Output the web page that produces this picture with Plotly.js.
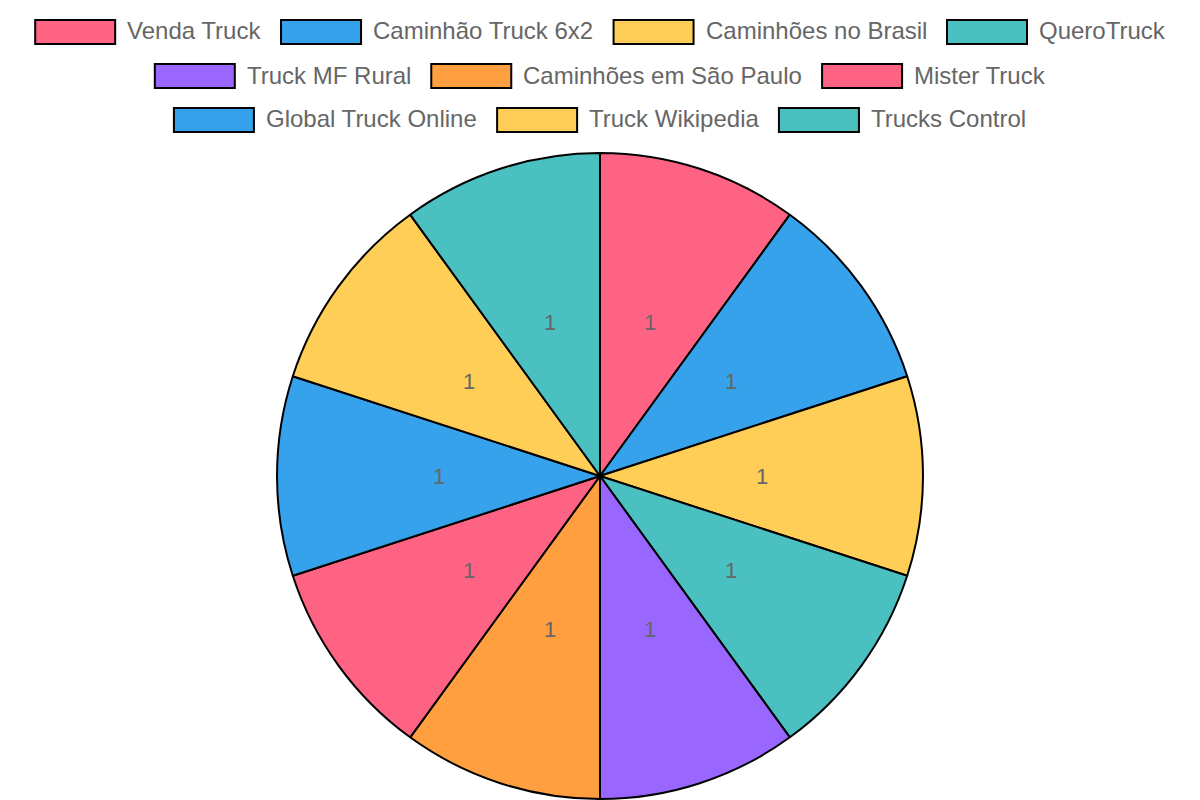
<!DOCTYPE html>
<html>
<head>
<meta charset="utf-8">
<script src="https://cdn.plot.ly/plotly-3.0.1.min.js"></script>
<style>
  html, body { margin: 0; padding: 0; background: #fff; }
  #myDiv { width: 1200px; height: 800px; }
</style>
</head>
<body>
<div id="myDiv"></div>
<script>
var labels = ["Venda Truck", "Caminhão Truck 6x2", "Caminhões no Brasil", "QueroTruck",
  "Truck MF Rural", "Caminhões em São Paulo", "Mister Truck",
  "Global Truck Online", "Truck Wikipedia", "Trucks Control"];
var values = [1, 1, 1, 1, 1, 1, 1, 1, 1, 1];
var colors = ["#FF6384", "#36A2EB", "#FFCE56", "#4BC0C0", "#9966FF", "#FF9F40",
  "#FF6384", "#36A2EB", "#FFCE56", "#4BC0C0"];

var W = 1200, H = 800;
var fontFam = "Liberation Sans, Arial, Helvetica, sans-serif";
var legendFont = 24, boxW = 80, gap = 20;

// pie placement (pixels)
var cx = 600, cy = 476, R = 323;

// measure legend text so rows wrap and centre like the original
var ctx = document.createElement("canvas").getContext("2d");
ctx.font = legendFont + "px 'Liberation Sans'";
var items = labels.map(function (l, i) {
  var tw = ctx.measureText(l).width;
  return {label: l, color: colors[i], w: boxW + legendFont / 2 + tw};
});
var rows = [[]], rowW = [0];
items.forEach(function (it) {
  var r = rows.length - 1;
  if (rows[r].length && rowW[r] + gap + it.w > W - 2 * gap) {
    rows.push([]); rowW.push(0); r++;
  }
  rowW[r] += (rows[r].length ? gap : 0) + it.w;
  rows[r].push(it);
});

var shapes = [], annotations = [];
rows.forEach(function (row, ri) {
  var top = 20 + ri * 44;
  var x = W / 2 - rowW[ri] / 2;
  row.forEach(function (it) {
    shapes.push({
      type: "rect", xref: "paper", yref: "paper",
      x0: x / W, x1: (x + boxW) / W,
      y0: 1 - top / H, y1: 1 - (top + 24) / H,
      fillcolor: it.color, line: {color: "#000", width: 2}
    });
    annotations.push({
      xref: "paper", yref: "paper", x: (x + boxW + legendFont / 2 - 2) / W,
      y: 1 - (top + 11) / H, xanchor: "left", yanchor: "middle",
      text: it.label, showarrow: false,
      font: {family: fontFam, size: legendFont, color: "#666"}
    });
    x += it.w + gap;
  });
});

// value labels at half radius on each slice's mid angle
var total = values.reduce(function (a, b) { return a + b; }, 0);
var cum = 0;
values.forEach(function (v) {
  var mid = (cum + v / 2) / total * 2 * Math.PI;
  cum += v;
  annotations.push({
    xref: "paper", yref: "paper",
    x: (cx + 0.5 * R * Math.sin(mid)) / W,
    y: 1 - (cy - 0.5 * R * Math.cos(mid)) / H,
    xanchor: "center", yanchor: "middle",
    text: String(v), showarrow: false,
    font: {family: fontFam, size: 22, color: "#666"}
  });
});

var trace = {
  type: "pie",
  labels: labels,
  values: values,
  marker: {colors: colors, line: {color: "#000", width: 2}},
  sort: false,
  direction: "clockwise",
  rotation: 0,
  textinfo: "none",
  hoverinfo: "label+value",
  domain: {x: [(cx - R) / W, (cx + R) / W], y: [1 - (cy + R) / H, 1 - (cy - R) / H]},
  showlegend: false
};

var layout = {
  width: W, height: H,
  margin: {l: 0, r: 0, t: 0, b: 0},
  paper_bgcolor: "#fff",
  showlegend: false,
  shapes: shapes,
  annotations: annotations
};

Plotly.newPlot("myDiv", [trace], layout, {displayModeBar: false});
</script>
</body>
</html>
